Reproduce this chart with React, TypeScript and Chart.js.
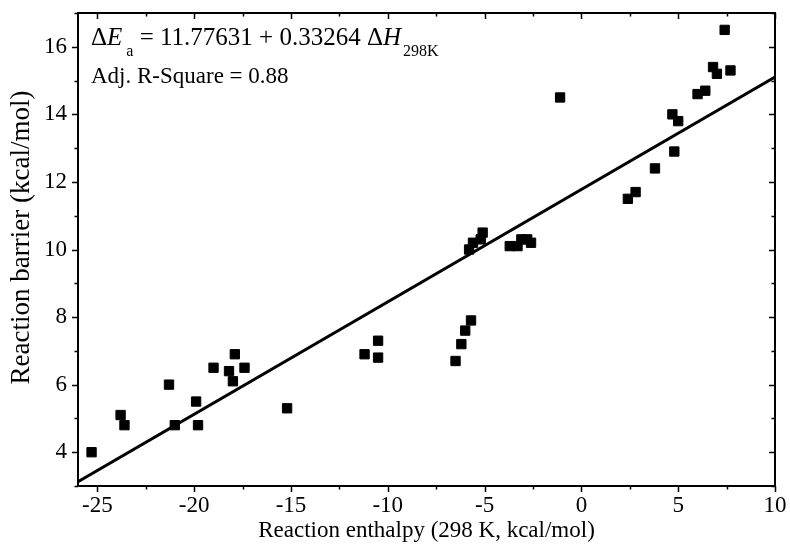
import React, { useEffect, useRef } from 'react';
import { Chart, registerables } from 'chart.js';

Chart.register(...registerables);

// Data
const enthalpy = [
  -25.3, -23.8, -23.6, -21.3, -21.0, -19.9, -19.8, -19.0, -18.2, -18.0, -17.9, -17.4,
  -15.2, -11.2, -10.5, -10.5, -6.5, -6.2, -6.0, -5.7, -5.8, -5.6, -5.2, -5.1,
  -3.7, -3.3, -3.1, -2.8, -2.6, -1.1, 2.4, 2.8, 3.8, 4.7, 4.8, 5.0,
  6.0, 6.4, 6.8, 7.0, 7.4, 7.7,
];
const barrier = [
  4.0, 5.1, 4.8, 6.0, 4.8, 5.5, 4.8, 6.5, 6.4, 6.1, 6.9, 6.5,
  5.3, 6.9, 7.3, 6.8, 6.7, 7.2, 7.6, 7.9, 10.0, 10.2, 10.3, 10.5,
  10.1, 10.1, 10.3, 10.3, 10.2, 14.5, 11.5, 11.7, 12.4, 14.0, 12.9, 13.8,
  14.6, 14.7, 15.4, 15.2, 16.5, 15.3,
];
const fitIntercept = 11.77631;
const fitSlope = 0.33264;
const adjRSquare = '0.88';
const xMin = -26;
const xMax = 10;
const yMin = 3;
const yMax = 17;
const xTickValues = [-25, -20, -15, -10, -5, 0, 5, 10];
const yTickValues = [4, 6, 8, 10, 12, 14, 16];
const xMinorTicks = [-22.5, -17.5, -12.5, -7.5, -2.5, 2.5, 7.5];
const yMinorTicks = [3, 5, 7, 9, 11, 13, 15, 17];
const xTitle = 'Reaction enthalpy (298 K, kcal/mol)';
const yTitle = 'Reaction barrier (kcal/mol)';

const FONT = "'Liberation Serif', 'Times New Roman', serif";

const framePlugin = {
  id: 'frameTicks',
  afterDraw(chart: any) {
    const { ctx, chartArea } = chart;
    const { left, right, top, bottom } = chartArea;
    const xs = chart.scales.x;
    const ys = chart.scales.y;
    ctx.save();
    ctx.strokeStyle = '#000';
    ctx.lineWidth = 2;
    ctx.strokeRect(left, top, right - left, bottom - top);
    ctx.lineWidth = 1.5;
    const major = 6;
    const minor = 3.5;
    ctx.beginPath();
    const xt = [...xTickValues.map((v) => [v, major]), ...xMinorTicks.map((v) => [v, minor])];
    for (const [v, L] of xt) {
      const px = Math.round(xs.getPixelForValue(v)) + 0.5;
      ctx.moveTo(px, bottom);
      ctx.lineTo(px, bottom + L);
      ctx.moveTo(px, top);
      ctx.lineTo(px, top + L);
    }
    const yt = [...yTickValues.map((v) => [v, major]), ...yMinorTicks.map((v) => [v, minor])];
    for (const [v, L] of yt) {
      const py = Math.round(ys.getPixelForValue(v)) + 0.5;
      ctx.moveTo(left, py);
      ctx.lineTo(left - L, py);
      ctx.moveTo(right, py);
      ctx.lineTo(right - L, py);
    }
    ctx.stroke();
    ctx.restore();
  },
};

type Seg = { t: string; it?: boolean; sub?: boolean; gap?: number };

const annotationPlugin = {
  id: 'equationText',
  afterDraw(chart: any) {
    const { ctx, chartArea } = chart;
    const drawLine = (segs: Seg[], x: number, y: number, size: number) => {
      const subSize = Math.round(size * 0.64);
      let cx = x;
      for (const s of segs) {
        const fs = s.sub ? subSize : size;
        ctx.font = `${s.it ? 'italic ' : ''}${fs}px ${FONT}`;
        ctx.fillStyle = '#000';
        ctx.textBaseline = 'alphabetic';
        ctx.textAlign = 'left';
        cx += s.gap || 0;
        ctx.fillText(s.t, cx, s.sub ? y + 11 : y);
        cx += ctx.measureText(s.t).width;
      }
    };
    ctx.save();
    const x0 = chartArea.left + 13;
    drawLine(
      [
        { t: '\u0394' },
        { t: 'E', it: true },
        { t: 'a', sub: true, gap: 4 },
        { t: ` = ${fitIntercept} + ${fitSlope} \u0394` },
        { t: 'H', it: true },
        { t: '298K', sub: true, gap: 2 },
      ],
      x0,
      chartArea.top + 32,
      25
    );
    drawLine([{ t: `Adj. R-Square = ${adjRSquare}` }], x0, chartArea.top + 70, 23);

    // Y axis title (drawn manually so its centre can sit where the reference has it)
    ctx.save();
    ctx.translate(22, (chartArea.top + chartArea.bottom) / 2 - 12);
    ctx.rotate(-Math.PI / 2);
    ctx.font = `27px ${FONT}`;
    ctx.fillStyle = '#000';
    ctx.textAlign = 'center';
    ctx.textBaseline = 'middle';
    ctx.fillText(yTitle, 0, 0);
    ctx.restore();
    ctx.restore();
  },
};

const zeroPadding = (scale: any) => {
  scale.paddingTop = 0;
  scale.paddingBottom = 0;
  scale.paddingLeft = 0;
  scale.paddingRight = 0;
};

export default function App() {
  const ref = useRef<HTMLCanvasElement | null>(null);
  useEffect(() => {
    document.body.style.margin = '0';
    const points = enthalpy.map((x, i) => ({ x, y: barrier[i] }));
    const fitLine = [xMin, xMax].map((x) => ({ x, y: fitIntercept + fitSlope * x }));
    const chart = new Chart(ref.current as HTMLCanvasElement, {
      type: 'scatter',
      data: {
        datasets: [
          {
            label: 'Fit',
            type: 'line',
            data: fitLine,
            borderColor: '#000',
            borderWidth: 3,
            pointRadius: 0,
            fill: false,
            order: 2,
          } as any,
          {
            label: 'Data',
            data: points,
            pointStyle: 'rect',
            pointRadius: 6.6,
            pointBackgroundColor: '#000',
            pointBorderColor: '#000',
            pointBorderWidth: 1,
            order: 1,
          },
        ],
      },
      options: {
        animation: false,
        responsive: true,
        maintainAspectRatio: false,
        layout: { padding: { top: 13, right: 15, left: 0, bottom: 0 } },
        plugins: {
          legend: { display: false },
          tooltip: { enabled: false },
        },
        scales: {
          x: {
            type: 'linear',
            min: xMin,
            max: xMax,
            grid: { display: false, drawTicks: false },
            border: { display: false },
            afterBuildTicks(scale: any) {
              scale.ticks = xTickValues.map((value) => ({ value }));
            },
            ticks: {
              padding: 6,
              color: '#000',
              font: { family: FONT, size: 23 },
              maxRotation: 0,
              autoSkip: false,
            },
            title: {
              display: true,
              text: xTitle,
              color: '#000',
              font: { family: FONT, size: 23 },
              padding: { top: 0, bottom: 7 },
            },
            afterFit(scale: any) {
              scale.height = 66;
              zeroPadding(scale);
            },
          },
          y: {
            type: 'linear',
            min: yMin,
            max: yMax,
            grid: { display: false, drawTicks: false },
            border: { display: false },
            afterBuildTicks(scale: any) {
              scale.ticks = yTickValues.map((value) => ({ value }));
            },
            ticks: {
              padding: 11,
              color: '#000',
              font: { family: FONT, size: 23 },
              autoSkip: false,
            },
            title: { display: false },
            afterFit(scale: any) {
              scale.width = 78;
              zeroPadding(scale);
            },
          },
        },
      },
      plugins: [framePlugin, annotationPlugin],
    });
    return () => chart.destroy();
  }, []);
  return (
    <div style={{ width: 790, height: 552, position: 'relative', background: '#fff' }}>
      <canvas ref={ref} />
    </div>
  );
}
